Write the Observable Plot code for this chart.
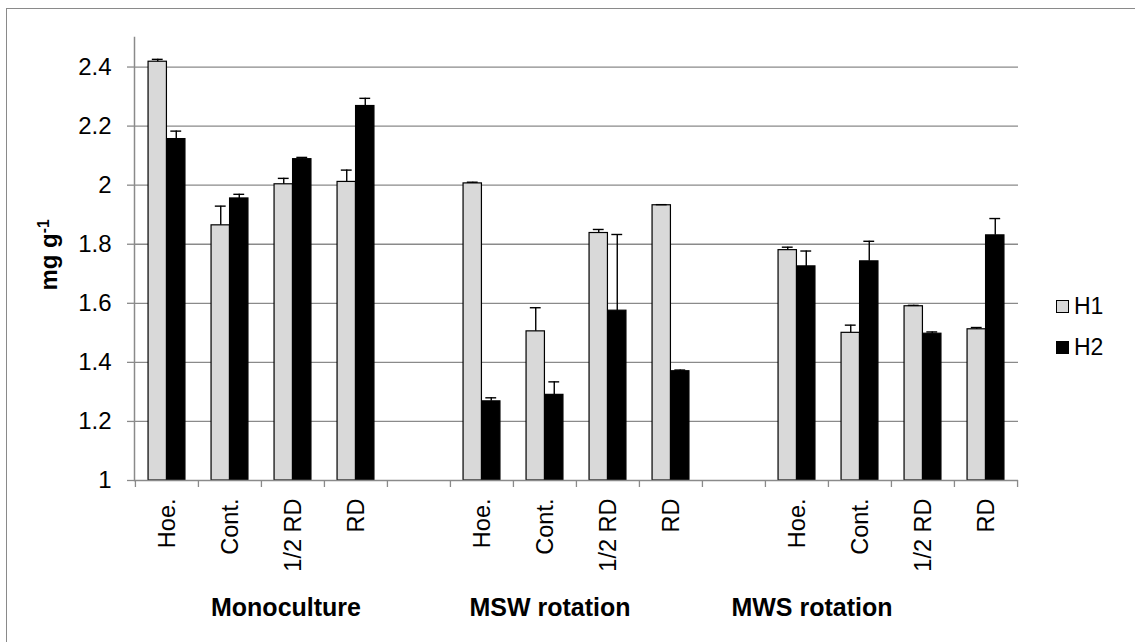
<!DOCTYPE html>
<html><head><meta charset="utf-8">
<script src="https://cdn.jsdelivr.net/npm/d3@7"></script>
<script src="https://cdn.jsdelivr.net/npm/@observablehq/plot@0.6"></script>
<style>
body{margin:0;background:#fff;}
#wrap{position:relative;width:1135px;height:642px;overflow:hidden;font-family:"Liberation Sans",Arial,sans-serif;background:#fff;}
#chart{position:absolute;left:0;top:0;}
#frame{position:absolute;left:6px;top:8px;width:1200px;height:700px;border-left:1.5px solid #8a8a8a;border-top:1.5px solid #8a8a8a;pointer-events:none;}
#legend{position:absolute;left:1056px;top:286px;font-size:23px;color:#000;}
.item{display:flex;align-items:center;height:41px;}
.sw{width:11px;height:11px;border:1.5px solid #000;margin-right:5px;}
</style>
</head><body>
<div id="wrap"><div id="chart"></div><div id="frame"></div><div id="legend"></div></div>
<script>
const groups = ["Monoculture", "MSW rotation", "MWS rotation"];
const treatments = ["Hoe.", "Cont.", "1/2 RD", "RD"];
const seriesNames = ["H1", "H2"];
const seriesColors = ["#d9d9d9", "#000000"];
// values in group order (Monoculture, MSW, MWS) x treatment order
const h1 = [2.418, 1.864, 2.003, 2.011, 2.006, 1.505, 1.838, 1.932, 1.780, 1.500, 1.590, 1.512];
const h1Err = [0.008, 0.065, 0.020, 0.040, 0.004, 0.080, 0.012, 0.002, 0.010, 0.026, 0.003, 0.006];
const h2 = [2.156, 1.955, 2.088, 2.268, 1.268, 1.290, 1.575, 1.370, 1.725, 1.742, 1.497, 1.830];
const h2Err = [0.027, 0.014, 0.006, 0.026, 0.012, 0.044, 0.258, 0.004, 0.052, 0.068, 0.006, 0.057];
const yTicks = [1, 1.2, 1.4, 1.6, 1.8, 2, 2.2, 2.4];
const yDomain = [1, 2.5];
const yTitle = "mg g-1";

const slots = [];
groups.forEach((g, gi) => {
  if (gi > 0) slots.push("gap" + gi);
  treatments.forEach(t => slots.push(g + "|" + t));
});
const rows = [];
groups.forEach((g, gi) => treatments.forEach((t, ti) => {
  const i = gi * treatments.length + ti;
  rows.push({slot: g + "|" + t, treatment: t, series: "H1", value: h1[i], err: h1Err[i]});
  rows.push({slot: g + "|" + t, treatment: t, series: "H2", value: h2[i], err: h2Err[i]});
}));

const W = 1135, H = 642, mL = 134, mR = 117, mT = 37, mB = 162;
const step = (W - mL - mR) / slots.length;
const bw = step / 3.41;
const capW = 11;
const grid = "#8a8a8a";
const r1 = rows.filter(d => d.series === "H1");
const r2 = rows.filter(d => d.series === "H2");

const groupAnchors = [{slot: slots[2], dx: -7}, {slot: slots[6], dx: 5}, {slot: slots[10], dx: 15}];
const groupMarks = groups.map((g, i) => Plot.text([g], {
  x: () => groupAnchors[i].slot, text: d => d, frameAnchor: "bottom", dy: 127, dx: groupAnchors[i].dx,
  fontWeight: "bold", fontSize: 25, lineAnchor: "middle", fill: "#000"
}));

const chart = Plot.plot({
  width: W, height: H,
  marginLeft: mL, marginRight: mR, marginTop: mT, marginBottom: mB,
  style: {fontFamily: "'Liberation Sans', Arial, sans-serif", fontSize: "24px", color: "#000", background: "transparent", overflow: "visible"},
  x: {type: "band", domain: slots, padding: 0},
  y: {domain: yDomain},
  marks: [
    Plot.ruleY(yTicks.slice(1), {stroke: grid, strokeWidth: 1.3}),
    Plot.barY(r1, {x: "slot", y1: yDomain[0], y2: "value", fill: seriesColors[0], stroke: "#000", strokeWidth: 1.2, insetLeft: step / 2 - bw, insetRight: step / 2}),
    Plot.barY(r2, {x: "slot", y1: yDomain[0], y2: "value", fill: seriesColors[1], stroke: "#000", strokeWidth: 1.2, insetLeft: step / 2, insetRight: step / 2 - bw}),
    Plot.ruleX(r1, {x: "slot", y1: "value", y2: d => d.value + d.err, dx: -bw / 2, stroke: "#000", strokeWidth: 1.4}),
    Plot.ruleX(r2, {x: "slot", y1: "value", y2: d => d.value + d.err, dx: bw / 2, stroke: "#000", strokeWidth: 1.4}),
    Plot.tickY(r1, {x: "slot", y: d => d.value + d.err, insetLeft: step / 2 - bw + (bw - capW) / 2, insetRight: step / 2 + (bw - capW) / 2, stroke: "#000", strokeWidth: 1.4}),
    Plot.tickY(r2, {x: "slot", y: d => d.value + d.err, insetLeft: step / 2 + (bw - capW) / 2, insetRight: step / 2 - bw + (bw - capW) / 2, stroke: "#000", strokeWidth: 1.4}),
    Plot.ruleY([yDomain[0]], {stroke: grid, strokeWidth: 1.5}),
    Plot.frame({anchor: "left", stroke: grid, strokeWidth: 1.5}),
    Plot.axisY({ticks: yTicks, tickSize: 7, tickPadding: 16, tickFormat: d => String(d), stroke: grid, strokeWidth: 1.3, fill: "#000", fontSize: 24, label: null}),
    Plot.axisX({ticks: slots, tickSize: 7, tickFormat: () => "", dx: -step / 2, stroke: grid, strokeWidth: 1.3, label: null}),
    Plot.axisX({ticks: [slots[slots.length - 1]], tickSize: 7, tickFormat: () => "", dx: step / 2, stroke: grid, strokeWidth: 1.3, label: null}),
    Plot.text(r1, {x: "slot", text: "treatment", frameAnchor: "bottom", rotate: -90, textAnchor: "end", lineAnchor: "middle", dy: 18, fontSize: 23.5, fill: "#000"}),
    ...groupMarks,
    Plot.text([yTitle], {frameAnchor: "left", dx: -85, dy: -4, rotate: -90, textAnchor: "middle", lineAnchor: "middle", fontWeight: "bold", fontSize: 24, fill: "#000", text: d => d})
  ]
});
document.getElementById("chart").appendChild(chart);

// superscript for the y title
chart.querySelectorAll("text").forEach(t => {
  if (t.textContent === yTitle) {
    t.textContent = "mg g";
    const ts = document.createElementNS("http://www.w3.org/2000/svg", "tspan");
    ts.setAttribute("dy", "-0.55em");
    ts.setAttribute("font-size", "0.65em");
    ts.textContent = "-1";
    t.appendChild(ts);
  }
});

const legend = document.getElementById("legend");
seriesNames.forEach((s, i) => {
  const item = document.createElement("div");
  item.className = "item";
  const sw = document.createElement("div");
  sw.className = "sw";
  sw.style.background = seriesColors[i];
  const lab = document.createElement("span");
  lab.textContent = s;
  item.appendChild(sw); item.appendChild(lab);
  legend.appendChild(item);
});
</script>
</body></html>
